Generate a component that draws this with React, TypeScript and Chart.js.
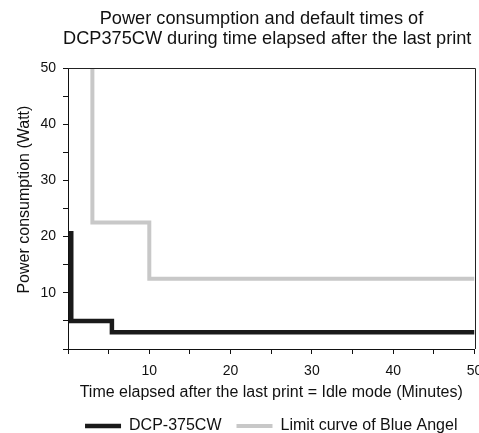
import React, { useEffect, useRef } from "react";
import { Chart, registerables } from "chart.js";

Chart.register(...registerables);

const TITLE_LINES = [
  "Power consumption and default times of",
  "DCP375CW during time elapsed after the last print",
];
const X_TITLE = "Time elapsed after the last print = Idle mode (Minutes)";
const Y_TITLE = "    Power consumption (Watt)";
const SERIES_NAMES = ["DCP-375CW", "Limit curve of Blue Angel"];

// corner points of the step curves (minutes, watts)
const DCP_MINUTES = [0.4, 0.4, 5.4, 5.4, 50];
const DCP_WATTS = [21, 5, 5, 3, 3];
const LIMIT_MINUTES = [3, 3, 10, 10, 50];
const LIMIT_WATTS = [50, 22.5, 22.5, 12.5, 12.5];

const X_MIN = 0;
const X_MAX = 50;
const Y_MIN = 0;
const Y_MAX = 50;
const TICK_STEP = 5;
const LABEL_STEP = 10;

const FONT = "'Liberation Sans', Arial, Helvetica, sans-serif";
const INK = "#111111";

const toPoints = (xs: number[], ys: number[]) => xs.map((x, i) => ({ x, y: ys[i] }));
const tickLabel = (v: number | string) => {
  const n = Number(v);
  return n !== 0 && n % LABEL_STEP === 0 ? String(n) : "";
};

// top and right frame lines of the plot box
const framePlugin = {
  id: "frame",
  afterDatasetsDraw(chart: any) {
    const { ctx, chartArea } = chart;
    const { left, top, right, bottom } = chartArea;
    ctx.save();
    ctx.strokeStyle = "#222222";
    ctx.lineWidth = 1;
    ctx.beginPath();
    ctx.moveTo(left, Math.round(top) + 0.5);
    ctx.lineTo(Math.round(right) + 0.5, Math.round(top) + 0.5);
    ctx.lineTo(Math.round(right) + 0.5, bottom);
    ctx.stroke();
    ctx.restore();
  },
};

// two-line chart title (each line centred like the original)
const titlePlugin = {
  id: "twoLineTitle",
  afterDraw(chart: any) {
    const { ctx } = chart;
    const centres = [261.5, 267.2];
    ctx.save();
    ctx.font = `normal 18.2px ${FONT}`;
    ctx.fillStyle = INK;
    ctx.textAlign = "center";
    ctx.textBaseline = "middle";
    TITLE_LINES.forEach((line, i) => {
      ctx.fillText(line, centres[i] ?? chart.width / 2, 19.4 + i * 20);
    });
    ctx.restore();
  },
};

export default function App() {
  const canvasRef = useRef<HTMLCanvasElement | null>(null);

  useEffect(() => {
    const canvas = canvasRef.current;
    if (!canvas) return;
    const chart = new Chart(canvas, {
      type: "line",
      data: {
        datasets: [
          {
            label: SERIES_NAMES[0],
            data: toPoints(DCP_MINUTES, DCP_WATTS),
            borderColor: "#1a1a1a",
            backgroundColor: "#1a1a1a",
            borderWidth: 4.5,
            pointRadius: 0,
            tension: 0,
            borderJoinStyle: "miter",
            borderCapStyle: "butt",
          },
          {
            label: SERIES_NAMES[1],
            data: toPoints(LIMIT_MINUTES, LIMIT_WATTS),
            borderColor: "#c8c8c8",
            backgroundColor: "#c8c8c8",
            borderWidth: 4,
            pointRadius: 0,
            tension: 0,
            borderJoinStyle: "miter",
            borderCapStyle: "butt",
          },
        ],
      },
      options: {
        animation: false,
        responsive: false,
        maintainAspectRatio: false,
        layout: { padding: { left: 0, right: 4.5, top: 68, bottom: 0 } },
        plugins: {
          title: { display: false },
          legend: {
            position: "bottom",
            fullSize: false,
            labels: {
              usePointStyle: true,
              pointStyle: "line",
              pointStyleWidth: 36,
              padding: 15,
              color: INK,
              font: { family: FONT, size: 16 },
            },
          },
          tooltip: { enabled: false },
        },
        scales: {
          x: {
            type: "linear",
            min: X_MIN,
            max: X_MAX,
            border: { color: INK, width: 1 },
            grid: { drawOnChartArea: false, drawTicks: true, tickLength: 5, color: INK },
            ticks: {
              stepSize: TICK_STEP,
              autoSkip: false,
              maxRotation: 0,
              padding: 9,
              color: INK,
              font: { family: FONT, size: 14 },
              callback: (v: any) => tickLabel(v),
            },
            title: {
              display: true,
              text: X_TITLE,
              color: INK,
              font: { family: FONT, size: 16, lineHeight: 0.9 },
              padding: { top: 0, bottom: 3 },
            },
            afterFit: (s: any) => {
              s.height = 54;
              s.paddingLeft = 0;
              s.paddingRight = 0;
            },
          },
          y: {
            type: "linear",
            min: Y_MIN,
            max: Y_MAX,
            border: { color: INK, width: 1 },
            grid: { drawOnChartArea: false, drawTicks: true, tickLength: 5, color: INK },
            ticks: {
              stepSize: TICK_STEP,
              autoSkip: false,
              padding: 7,
              color: INK,
              font: { family: FONT, size: 14 },
              callback: (v: any) => tickLabel(v),
            },
            title: {
              display: true,
              text: Y_TITLE,
              color: INK,
              font: { family: FONT, size: 16 },
              padding: { top: 15.4, bottom: 0 },
            },
            afterFit: (s: any) => {
              s.width = 68;
              s.paddingTop = 0;
              s.paddingBottom = 0;
            },
          },
        },
      },
      plugins: [framePlugin, titlePlugin],
    } as any);
    return () => chart.destroy();
  }, []);

  return (
    <div
      style={{
        position: "absolute",
        left: 0,
        top: 0,
        width: 479,
        height: 433,
        overflow: "hidden",
        background: "#ffffff",
      }}
    >
      <canvas ref={canvasRef} width={479} height={444} style={{ display: "block" }} />
    </div>
  );
}
